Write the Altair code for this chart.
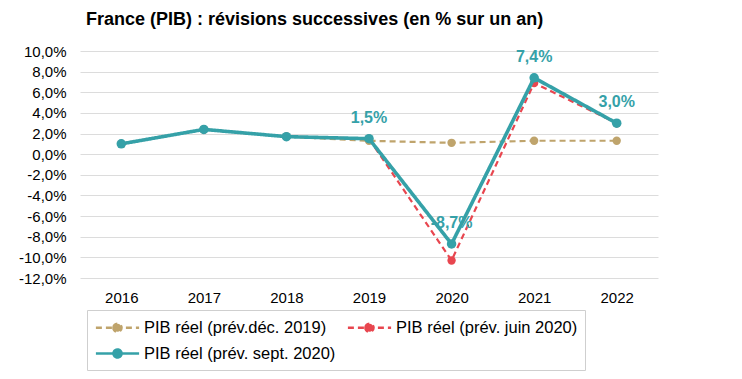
import altair as alt
import pandas as pd

years = ["2016", "2017", "2018", "2019", "2020", "2021", "2022"]
prev_dec_2019 = [1.0, 2.4, 1.7, 1.3, 1.1, 1.3, 1.3]
prev_juin_2020 = [1.0, 2.4, 1.7, 1.5, -10.3, 6.9, 3.0]
prev_sept_2020 = [1.0, 2.4, 1.7, 1.5, -8.7, 7.4, 3.0]
series_names = ["PIB réel (prév.déc. 2019)", "PIB réel (prév. juin 2020)", "PIB réel (prév. sept. 2020)"]
series_colors = ["#BFA46C", "#E8464F", "#35A1A8"]
label_years = ["2019", "2020", "2021", "2022"]
y_ticks = [-12, -10, -8, -6, -4, -2, 0, 2, 4, 6, 8, 10]

rows = []
for name, vals in zip(series_names, [prev_dec_2019, prev_juin_2020, prev_sept_2020]):
    for y, v in zip(years, vals):
        rows.append({"annee": y, "valeur": v, "serie": name})
df = pd.DataFrame(rows)

lab = df[(df.serie == series_names[2]) & (df.annee.isin(label_years))].copy()
lab["txt"] = lab.valeur.map(lambda v: ("-" if v < 0 else "") + f"{abs(v):.1f}".replace(".", ",") + "%")

# wide line + dot symbol; unit = 9px with symbolSize 324
sym_path = "M-2.4,0L2.4,0M-0.45,0A0.45,0.45,0,1,1,0.45,0A0.45,0.45,0,1,1,-0.45,0Z"

x_enc = alt.X("annee:O", sort=years,
              scale=alt.Scale(type="point", padding=0.5),
              axis=alt.Axis(title=None, labelAngle=0, ticks=False, domain=False,
                            labelFontSize=15, labelColor="#000", labelPadding=12,
                            labelFont="Liberation Sans"))
y_enc = alt.Y("valeur:Q",
              scale=alt.Scale(domain=[-12, 10], nice=False, zero=False),
              axis=alt.Axis(title=None, values=y_ticks, ticks=False, domain=False,
                            labelFontSize=15, labelColor="#000", labelPadding=14,
                            labelFont="Liberation Sans", labelOverlap=False,
                            gridColor="#DCDCDC", gridWidth=1,
                            labelExpr="(datum.value < 0 ? '-' : '') + replace(format(abs(datum.value), '.1f'), '.', ',') + '%'"))

legend = alt.Legend(title=None, orient="none", legendX=7, legendY=259, columns=2,
                    direction="horizontal",
                    symbolType=sym_path, symbolSize=324, symbolStrokeWidth=2.5,
                    symbolOffset=13,
                    labelFontSize=16.5, labelFont="Liberation Sans", labelColor="#000",
                    labelLimit=400,
                    labelOffset=16, rowPadding=6, columnPadding=6, padding=7,
                    strokeColor="#CFCFCF", fillColor="#FFFFFF")

color_enc = alt.Color("serie:N", scale=alt.Scale(domain=series_names, range=series_colors), legend=legend)
dash_enc = alt.StrokeDash("serie:N", scale=alt.Scale(domain=series_names, range=[[6, 4], [6, 4], [1, 0]]), legend=legend)

base = alt.Chart(df).encode(x=x_enc, y=y_enc, color=color_enc)

layers = []
widths = [2.2, 2.2, 3.6]
sizes = [70, 70, 90]
for name, w, s in zip(series_names, widths, sizes):
    sub = base.transform_filter(alt.datum.serie == name)
    layers.append(sub.mark_line(strokeWidth=w).encode(strokeDash=dash_enc))
    layers.append(sub.mark_point(filled=True, size=s, opacity=1))

labels = alt.Chart(lab).mark_text(fontSize=16, fontWeight="bold", color="#35A1A8",
                                  dy=-21, baseline="middle", font="Liberation Sans").encode(
    x=x_enc, y=y_enc, text="txt:N")
layers.append(labels)

chart = alt.layer(*layers).properties(
    width=578, height=227,
    title=alt.Title("France (PIB) : révisions successives (en % sur un an)",
                    anchor="start", frame="group", dx=6, offset=15, fontSize=18, fontWeight="bold",
                    font="Liberation Sans", color="#000"),
    autosize=alt.AutoSizeParams(type="none"),
    padding={"left": 72, "top": 43, "right": 76, "bottom": 93},
).configure_view(stroke=None).configure_axisY(gridColor="#DCDCDC")

chart.save("out.html", embed_options={"renderer": "svg", "actions": False})
